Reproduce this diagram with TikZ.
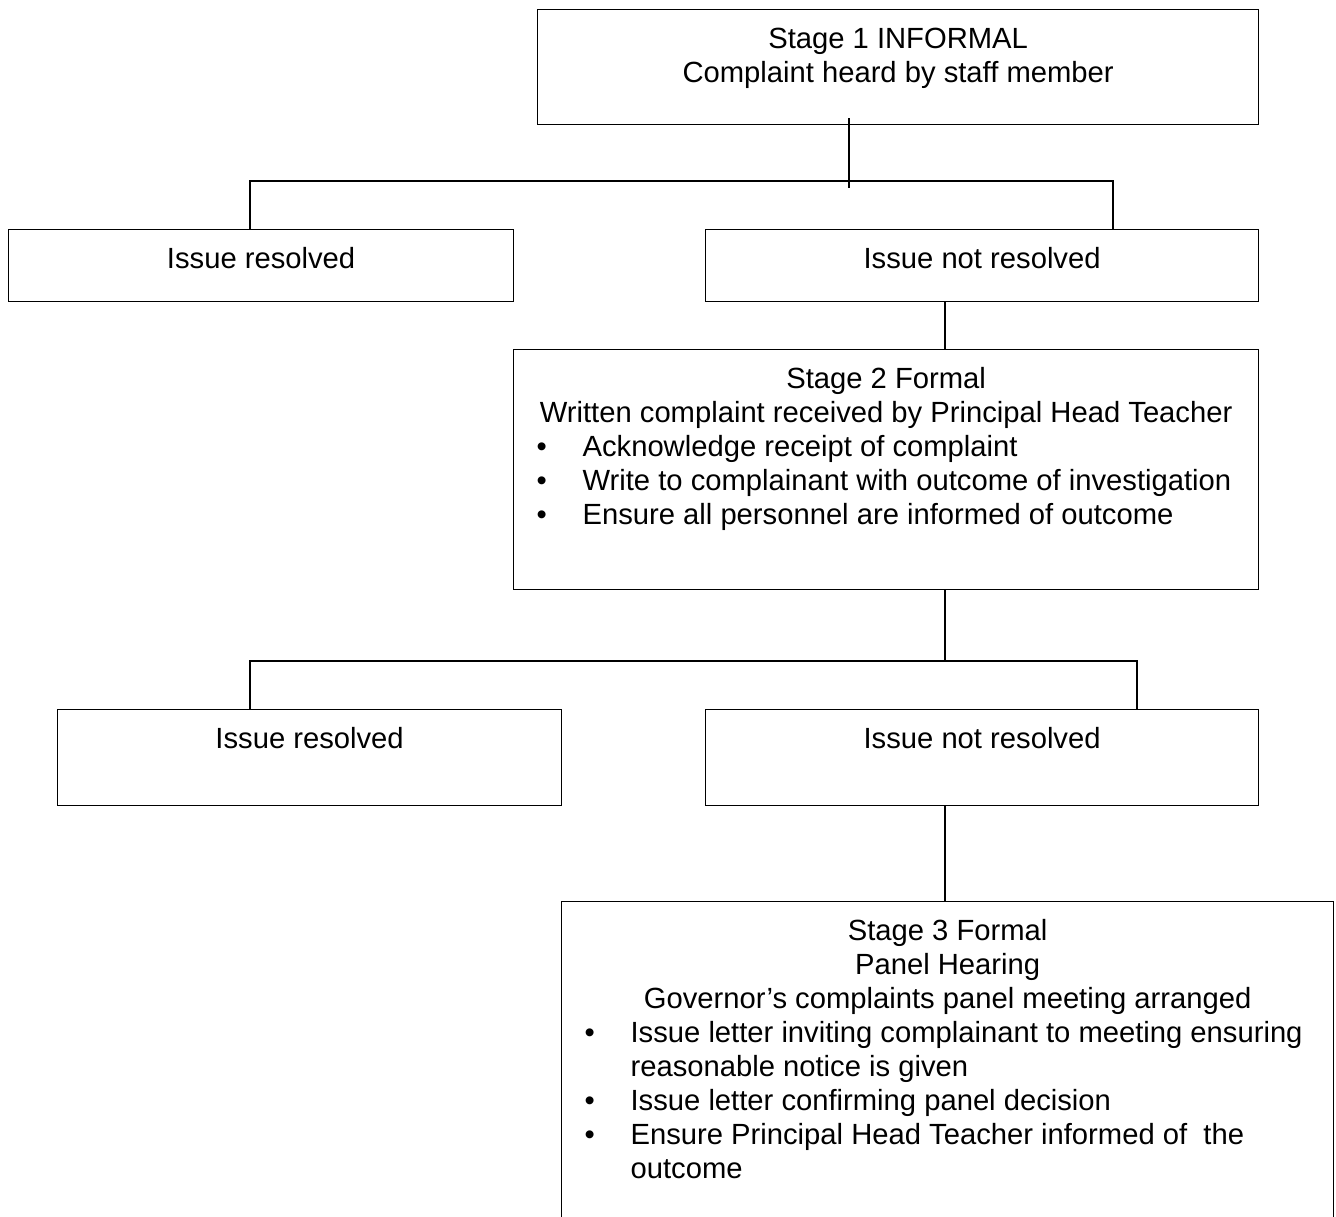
\documentclass[tikz,border=0pt]{standalone}
\usepackage{fontspec}
\setmainfont{Liberation Sans}
\usepackage{tikz}
\usetikzlibrary{positioning,calc}

\newlength{\px}
\setlength{\px}{0.5pt}
\newcommand{\boxtext}[3]{\parbox[c][#2\px][t]{#1\px}{\centering\rule{0pt}{39\px}\ignorespaces#3}}
\newcommand{\bulletline}{\hspace*{23\px}\makebox[46\px][l]{\textbullet}}

\begin{document}
\begin{tikzpicture}[x=0.5pt,y=-0.5pt,line width=0.6pt,
    box/.style={draw,inner sep=0pt,anchor=north west,font=\fontsize{14.6}{17}\selectfont}]
   \useasboundingbox (0,0) rectangle (1336,1216);
   \clip (0,0) rectangle (1336,1216);

   \node[box] (s1) at (537,9) {\boxtext{721}{115}{Stage 1 INFORMAL\\Complaint heard by staff member}};
   \node[box] (r1) at (8,229) {\boxtext{505}{72}{Issue resolved}};
   \node[box] (n1) at (705,229) {\boxtext{553}{72}{Issue not resolved}};
   \node[box] (s2) at (513,349) {\boxtext{745}{240}{Stage 2 Formal\\
      Written complaint received by Principal Head Teacher\par\raggedright
      \bulletline Acknowledge receipt of complaint\\
      \bulletline Write to complainant with outcome of investigation\\
      \bulletline Ensure all personnel are informed of outcome}};
   \node[box] (r2) at (57,709) {\boxtext{504}{96}{Issue resolved}};
   \node[box] (n2) at (705,709) {\boxtext{553}{96}{Issue not resolved}};
   \node[box] (s3) at (561,901) {\boxtext{772}{340}{Stage 3 Formal\\Panel Hearing\\
      Governor’s complaints panel meeting arranged\par\raggedright
      \bulletline Issue letter inviting complainant to meeting ensuring\\
      \hspace*{69\px}reasonable notice is given\\
      \bulletline Issue letter confirming panel decision\\
      \bulletline Ensure Principal Head Teacher informed of\ \ the\\
      \hspace*{69\px}outcome}};

   % branch points
   \coordinate (j1) at (849,181);
   \coordinate (a1) at (250,181);
   \coordinate (b1) at (1113,181);
   \coordinate (j2) at (945,661);
   \coordinate (a2) at (250,661);
   \coordinate (b2) at (1137,661);

   \draw ($(j1 |- s1.south)+(0,-7)$) -- ($(j1)+(0,7)$);
   \draw (a1 |- r1.north) -- (a1) -- (b1) -- (b1 |- n1.north);
   \draw (j2 |- n1.south) -- (j2 |- s2.north);
   \draw (j2 |- s2.south) -- (j2);
   \draw (a2 |- r2.north) -- (a2) -- (b2) -- (b2 |- n2.north);
   \draw (j2 |- n2.south) -- (j2 |- s3.north);
\end{tikzpicture}
\end{document}
